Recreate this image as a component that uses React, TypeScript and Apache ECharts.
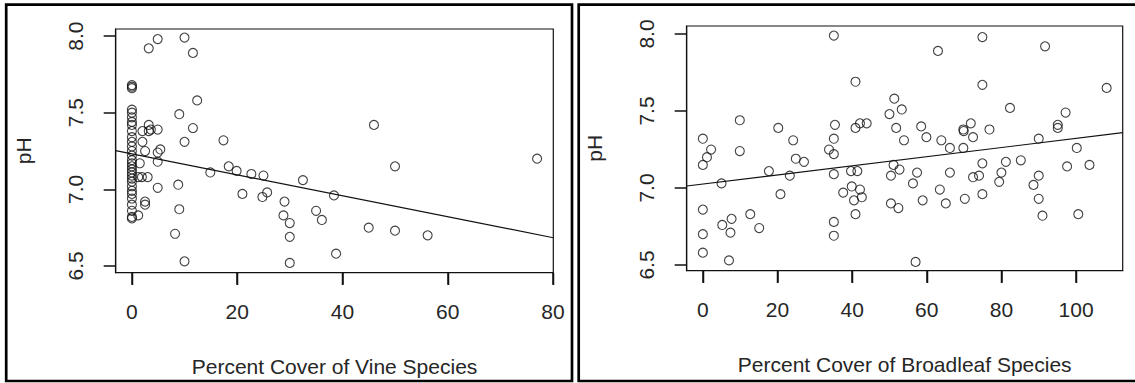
import React, { useEffect, useRef } from "react";
import * as echarts from "echarts";

// Left panel: Percent Cover of Vine Species vs pH
const vineX = [
  0, 0, 0, 0, 0, 0, 0, 0, 0, 0, 0, 0, 0, 0, 0, 0, 0, 0, 0, 0, 0, 0, 0, 0, 0, 0, 0, 0, 0, 0,
  3.2, 4.9, 10.0, 11.6, 12.4, 9.0, 11.6, 10.0, 17.4, 3.2, 3.6, 3.2, 4.9, 2.0, 2.0, 2.5, 4.9, 5.4,
  1.5, 4.9, 1.2, 1.9, 3.0, 4.9, 8.8, 2.5, 2.5, 1.2, 9.0, 8.2, 10.0, 14.9, 18.4, 19.9, 22.7, 25.0,
  32.5, 21.0, 24.8, 25.7, 29.0, 28.8, 30.0, 30.0, 30.0, 35.0, 36.1, 38.4, 46.0, 50.0, 77.0, 45.0,
  50.0, 56.2, 38.8,
];
const vinePH = [
  7.68, 7.67, 7.66, 7.52, 7.5, 7.47, 7.44, 7.42, 7.38, 7.34, 7.31, 7.28, 7.25, 7.22, 7.19, 7.17,
  7.15, 7.13, 7.11, 7.09, 7.07, 7.05, 7.02, 6.99, 6.97, 6.94, 6.9, 6.86, 6.82, 6.81,
  7.92, 7.98, 7.99, 7.89, 7.58, 7.49, 7.4, 7.31, 7.32, 7.42, 7.39, 7.38, 7.39, 7.38, 7.31, 7.25,
  7.24, 7.26, 7.17, 7.18, 7.08, 7.08, 7.08, 7.01, 7.03, 6.92, 6.9, 6.83, 6.87, 6.71, 6.53, 7.11,
  7.15, 7.12, 7.1, 7.09, 7.06, 6.97, 6.95, 6.98, 6.92, 6.83, 6.78, 6.69, 6.52, 6.86, 6.8, 6.96,
  7.42, 7.15, 7.2, 6.75, 6.73, 6.7, 6.58,
];
const vineFit = { intercept: 7.231, slope: -0.00683 };

// Right panel: Percent Cover of Broadleaf Species vs pH
const broadX = [
  35.1, 40.9, 51.3, 53.3, 50.0, 51.8, 53.9, 9.9, 20.2, 35.4, 40.9, 42.1, 43.9, 0, 2.2, 1.1, 0, 9.9,
  24.2, 24.9, 27.1, 35.1, 33.8, 35.1, 17.7, 23.3, 5.0, 35.1, 39.7, 41.4, 51.1, 52.7, 50.4, 39.9,
  37.6, 42.1, 40.5, 42.6, 40.9, 20.8, 50.4, 52.4, 0, 12.7, 7.7, 5.2, 7.4, 15.1, 0, 35.1, 35.1, 0,
  7.0, 74.9, 63.0, 91.7, 74.9, 108.2, 82.3, 97.2, 58.5, 59.9, 63.9, 66.2, 69.8, 69.9, 71.8, 72.4,
  76.8, 69.8, 90.0, 95.1, 95.1, 100.2, 74.9, 81.2, 85.2, 66.2, 57.4, 56.3, 72.4, 74.0, 80.0, 79.4,
  90.0, 88.6, 97.6, 103.6, 63.5, 58.9, 65.1, 70.2, 74.9, 90.0, 91.0, 100.6, 57.0,
];
const broadPH = [
  7.99, 7.69, 7.58, 7.51, 7.48, 7.39, 7.31, 7.44, 7.39, 7.41, 7.39, 7.42, 7.42, 7.32, 7.25, 7.2,
  7.15, 7.24, 7.31, 7.19, 7.17, 7.32, 7.25, 7.22, 7.11, 7.08, 7.03, 7.09, 7.11, 7.11, 7.15, 7.12,
  7.08, 7.01, 6.97, 6.99, 6.92, 6.94, 6.83, 6.96, 6.9, 6.87, 6.86, 6.83, 6.8, 6.76, 6.71, 6.74,
  6.7, 6.78, 6.69, 6.58, 6.53, 7.98, 7.89, 7.92, 7.67, 7.65, 7.52, 7.49, 7.4, 7.33, 7.31, 7.26,
  7.38, 7.37, 7.42, 7.33, 7.38, 7.26, 7.32, 7.41, 7.39, 7.26, 7.16, 7.17, 7.18, 7.1, 7.1, 7.03,
  7.07, 7.08, 7.1, 7.04, 7.08, 7.02, 7.14, 7.15, 6.99, 6.92, 6.9, 6.93, 6.96, 6.93, 6.82, 6.83,
  6.52,
];
const broadFit = { intercept: 7.026, slope: 0.00296 };

const vineTicks = [0, 20, 40, 60, 80];
const broadTicks = [0, 20, 40, 60, 80, 100];
const phTicks = [6.5, 7.0, 7.5, 8.0];

const vineRange = { min: -3.08, max: 80.08 };
const broadRange = { min: -4.33, max: 112.5 };
const phRangeLeft = { min: 6.456, max: 8.046 };
const phRangeRight = { min: 6.463, max: 8.052 };

const FONT = "Liberation Sans, Arial, sans-serif";
const TXT = "#262626";
const INK = "#111111";

function makeXAxis(gridIndex: number, range: { min: number; max: number }, ticks: number[], name: string) {
  return {
    type: "value",
    gridIndex,
    position: "bottom",
    min: range.min,
    max: range.max,
    name,
    nameLocation: "middle",
    nameGap: 83,
    nameTextStyle: { fontSize: 21, color: TXT, fontFamily: FONT },
    axisLine: { show: true, onZero: false, lineStyle: { color: INK, width: 1.2 } },
    splitLine: { show: false },
    axisTick: { show: true, length: 12, customValues: ticks, lineStyle: { color: INK, width: 1.5 } },
    axisLabel: { show: true, customValues: ticks, margin: 28, fontSize: 21, color: TXT, fontFamily: FONT },
  };
}

function makeYAxis(gridIndex: number, range: { min: number; max: number }) {
  return {
    type: "value",
    gridIndex,
    position: "left",
    min: range.min,
    max: range.max,
    name: "pH",
    nameLocation: "middle",
    nameGap: 82,
    nameRotate: 90,
    nameTextStyle: { fontSize: 21, color: TXT, fontFamily: FONT },
    axisLine: { show: true, onZero: false, lineStyle: { color: INK, width: 1.2 } },
    splitLine: { show: false },
    axisTick: { show: true, length: 12, customValues: phTicks, lineStyle: { color: INK, width: 1.5 } },
    axisLabel: {
      show: true,
      customValues: phTicks,
      rotate: 90,
      margin: 30,
      fontSize: 21,
      color: TXT,
      fontFamily: FONT,
      formatter: (v: number) => v.toFixed(1),
    },
  };
}

function pairs(xs: number[], ys: number[]) {
  return xs.map((x, i) => [x, ys[i]]);
}

function fitLine(fit: { intercept: number; slope: number }, range: { min: number; max: number }) {
  return [
    [range.min, fit.intercept + fit.slope * range.min],
    [range.max, fit.intercept + fit.slope * range.max],
  ];
}

const scatterStyle = {
  color: "rgba(0,0,0,0)",
  borderColor: INK,
  borderWidth: 1.1,
};

const panelBorders = [
  {
    id: "border-left",
    type: "rect",
    shape: { x: 6.2, y: 4.7, width: 565.8, height: 376.3 },
    style: { fill: "none", stroke: "#000", lineWidth: 2.7 },
    silent: true,
  },
  {
    id: "border-right",
    type: "rect",
    shape: { x: 578.7, y: 4.7, width: 560, height: 376.3 },
    style: { fill: "none", stroke: "#000", lineWidth: 2.7 },
    silent: true,
  },
];

export default function App() {
  const ref = useRef<HTMLDivElement>(null);
  useEffect(() => {
    if (!ref.current) return;
    const chart = echarts.init(ref.current, null, { renderer: "svg" });
    chart.setOption({
      animation: false,
      grid: [
        { left: 115.7, top: 29, width: 437.6, height: 243.7, show: true, borderColor: INK, borderWidth: 1.2, backgroundColor: "transparent" },
        { left: 686.7, top: 26, width: 436, height: 244.7, show: true, borderColor: INK, borderWidth: 1.2, backgroundColor: "transparent" },
      ],
      xAxis: [
        makeXAxis(0, vineRange, vineTicks, "Percent Cover of Vine Species"),
        makeXAxis(1, broadRange, broadTicks, "Percent Cover of Broadleaf Species"),
      ],
      yAxis: [makeYAxis(0, phRangeLeft), makeYAxis(1, phRangeRight)],
      series: [
        {
          type: "scatter",
          xAxisIndex: 0,
          yAxisIndex: 0,
          data: pairs(vineX, vinePH),
          symbol: "circle",
          symbolSize: 9,
          itemStyle: scatterStyle,
          emphasis: { disabled: true },
        },
        {
          type: "line",
          xAxisIndex: 0,
          yAxisIndex: 0,
          data: fitLine(vineFit, vineRange),
          showSymbol: false,
          symbol: "none",
          lineStyle: { color: INK, width: 1.2 },
          emphasis: { disabled: true },
        },
        {
          type: "scatter",
          xAxisIndex: 1,
          yAxisIndex: 1,
          data: pairs(broadX, broadPH),
          symbol: "circle",
          symbolSize: 9,
          itemStyle: scatterStyle,
          emphasis: { disabled: true },
        },
        {
          type: "line",
          xAxisIndex: 1,
          yAxisIndex: 1,
          data: fitLine(broadFit, broadRange),
          showSymbol: false,
          symbol: "none",
          lineStyle: { color: INK, width: 1.2 },
          emphasis: { disabled: true },
        },
      ],
      graphic: panelBorders,
    });

    // Outward x tick marks, positioned through the axes' own scales, snapped to crisp pixels.
    const tickLines: any[] = [];
    const addTicks = (axisIndex: number, ticks: number[], yMin: number) => {
      const yb = chart.convertToPixel({ yAxisIndex: axisIndex }, yMin) as number;
      ticks.forEach((t, i) => {
        const px = chart.convertToPixel({ xAxisIndex: axisIndex }, t) as number;
        if (typeof px !== "number" || typeof yb !== "number" || isNaN(px) || isNaN(yb)) return;
        const cx = Math.round(px) + 0.5;
        tickLines.push({
          id: `xtick-${axisIndex}-${i}`,
          type: "rect",
          shape: { x: cx - 0.75, y: Math.round(yb), width: 1.5, height: 12 },
          style: { fill: INK },
          silent: true,
          z: 100,
        });
      });
    };
    addTicks(0, vineTicks, phRangeLeft.min);
    addTicks(1, broadTicks, phRangeRight.min);
    chart.setOption({ graphic: [...panelBorders, ...tickLines] });

    return () => chart.dispose();
  }, []);
  return (
    <div
      ref={ref}
      style={{ position: "fixed", left: 0, top: 0, width: 1135, height: 383, background: "#fff" }}
    />
  );
}
